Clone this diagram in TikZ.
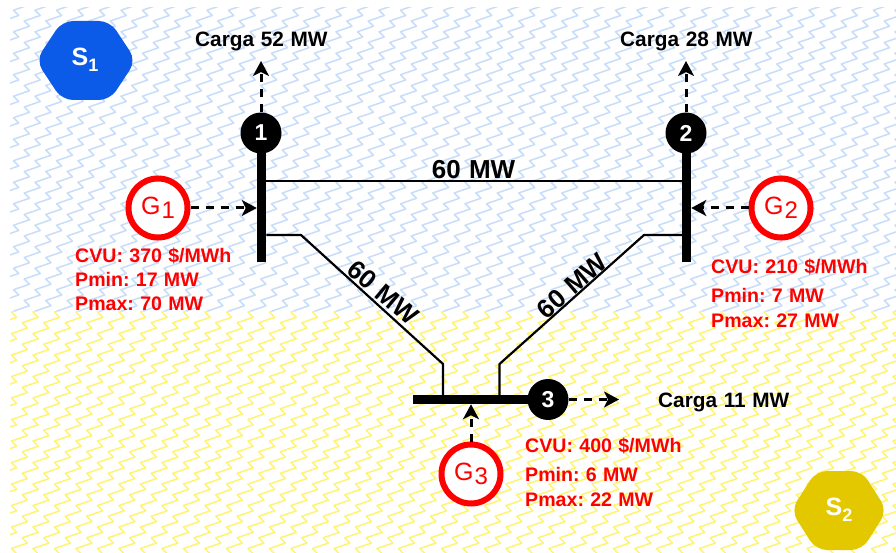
\documentclass[tikz,border=0pt]{standalone}
\usepackage{fontspec}
\setmainfont{Liberation Sans}[WordSpace=1.15]
\usetikzlibrary{arrows.meta,calc}
\definecolor{patblue}{HTML}{C8DDFA}
\definecolor{patyel}{HTML}{FFF470}
\definecolor{hexblue}{HTML}{0B5AE8}
\definecolor{hexyel}{HTML}{E3C800}
\definecolor{genred}{HTML}{FF0000}
\tikzset{
  zig/.style={line width=1.5pt,line join=round},
  load/.style={anchor=base west,font=\fontsize{20.8}{24}\selectfont\bfseries,inner sep=0pt},
  gdata/.style={anchor=base west,font=\fontsize{19.6}{24}\selectfont\bfseries,text=genred,inner sep=0pt},
  flow/.style={anchor=base,font=\fontsize{26}{30}\selectfont\bfseries,inner sep=0pt},
  busnum/.style={circle,fill=black,minimum size=41pt,inner sep=0pt,text=white,font=\fontsize{23}{26}\selectfont\bfseries},
  gen/.style={circle,draw=genred,fill=white,line width=6pt,minimum size=59pt,inner sep=0pt,text=genred},
  busbar/.style={fill=black,inner sep=0pt,outer sep=0pt},
  tie/.style={line width=2.2pt,line join=round},
  dflow/.style={line width=3pt,dash pattern=on 8pt off 7pt,-{Stealth[length=15pt,width=16pt,inset=4pt]}},
  hexlabel/.style={text=white,inner sep=0pt},
}
\newcommand{\genlabel}[1]{\fontsize{25}{28}\selectfont G\raisebox{-4pt}{\kern1pt\fontsize{24}{26}\selectfont #1}}
\newcommand{\hexlab}[1]{\fontsize{25}{28}\selectfont\bfseries S\raisebox{-6pt}{\fontsize{18}{20}\selectfont #1}}
\frenchspacing
\begin{document}
\begin{tikzpicture}[x=1pt,y=-1pt]
\useasboundingbox (0,0) rectangle (896,553);
\fill[white] (0,0) rectangle (896,553);
% background patterns
\begin{scope}
\clip (10,8) rectangle (896,311);
\foreach \k in {0,...,58}{
  \draw[zig,patblue] ({18.7-31*10.75+\k*21.5},{15.5+31*10.75})
    \foreach \i in {1,...,33}{ -- ++(-5.25,-5.25) -- ++(16,-5.5) };
}
\end{scope}
\begin{scope}
\clip (10,311) rectangle (896,553);
\foreach \k in {0,...,55}{
  \draw[zig,patyel] ({16.7-24*10.75+\k*21.5},{317.3+24*10.75})
    \foreach \i in {1,...,26}{ -- ++(-5.25,-5.25) -- ++(16,-5.5) };
}
\end{scope}
% hexagons
\fill[hexblue,rounded corners=11pt] (36,60.5) -- (62,21) -- (110,21) -- (136,60.5) -- (110,100) -- (62,100) -- cycle;
\node[hexlabel] (s1) at (85,60) {\hexlab{1}};
\fill[hexyel,rounded corners=11pt] (791,510.5) -- (816,471) -- (862,471) -- (887,510.5) -- (862,550) -- (816,550) -- cycle;
\node[hexlabel] (s2) at (839,510) {\hexlab{2}};
% bars
\node[busbar,minimum width=9.5pt,minimum height=129pt] (bar1) at (261.5,197.5) {};
\node[busbar,minimum width=9.5pt,minimum height=129pt] (bar2) at (686.5,197.5) {};
\node[busbar,minimum width=135pt,minimum height=9.5pt] (bar3) at (480.5,399.5) {};
% buses
\node[busnum] (n1) at (261,133) {1};
\node[busnum] (n2) at (686,133) {2};
\node[busnum] (n3) at (548,399.5) {3};
% ties
\coordinate (j1a) at (bar1.east |- 0,181);
\coordinate (j2a) at (bar2.west |- 0,181);
\coordinate (j1b) at (bar1.east |- 0,235);
\coordinate (k1b) at (301,235);
\coordinate (k3a) at (443,364);
\coordinate (j3a) at (443,395);
\coordinate (j2b) at (bar2.west |- 0,235);
\coordinate (k2b) at (644,235);
\coordinate (k3b) at (499.5,364);
\coordinate (j3b) at (499.5,395);
\draw[tie] (j1a) -- (j2a);
\draw[tie] (j1b) -- (k1b) -- (k3a) -- (j3a);
\draw[tie] (j2b) -- (k2b) -- (k3b) -- (j3b);
\node[flow] (f12) at (473.5,179) {60 MW};
\node[flow,rotate=-40] (f13) at (377,299) {60 MW};
\node[flow,rotate=41] (f23) at (578,293) {60 MW};
% generators
\node[gen] (g1) at (158,208) {\genlabel{1}};
\node[gen] (g2) at (781,208) {\genlabel{2}};
\node[gen] (g3) at (471,474) {\genlabel{3}};
% loads and flows
\coordinate (l1) at (261,61);
\coordinate (l2) at (686,61);
\coordinate (l3) at (619,399.5);
\draw[dflow] (n1) -- (l1);
\draw[dflow] (n2) -- (l2);
\draw[dflow] (n3) -- (l3);
\draw[dflow] (g1) -- (g1 -| bar1.west);
\draw[dflow] (g2) -- (g2 -| bar2.east);
\draw[dflow] (g3) -- (g3 |- bar3.south);
\node[load] (t1) at (195,47) {Carga 52 MW};
\node[load] (t2) at (620,47) {Carga 28 MW};
\node[load] (t3) at (658,407) {Carga 11 MW};
\node[gdata] (a1) at (75,262) {CVU: 370 \$/MWh};
\node[gdata] (a2) at (75,286) {Pmin: 17 MW};
\node[gdata] (a3) at (75,310) {Pmax: 70 MW};
\node[gdata] (b1) at (711,273) {CVU: 210 \$/MWh};
\node[gdata] (b2) at (711,302) {Pmin: 7 MW};
\node[gdata] (b3) at (711,327) {Pmax: 27 MW};
\node[gdata] (c1) at (525,452) {CVU: 400 \$/MWh};
\node[gdata] (c2) at (525,481) {Pmin: 6 MW};
\node[gdata] (c3) at (525,506) {Pmax: 22 MW};
\end{tikzpicture}
\end{document}
